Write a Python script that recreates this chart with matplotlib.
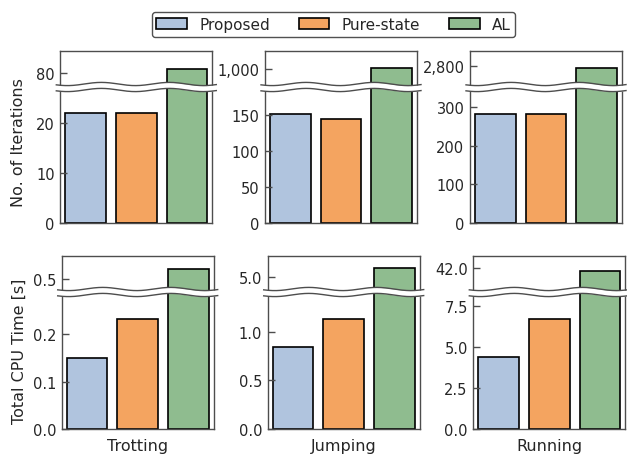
import numpy as np
import matplotlib
matplotlib.use("Agg")
import matplotlib.pyplot as plt
from matplotlib.patches import Patch
from matplotlib.ticker import FuncFormatter

# data
gaits = ["Trotting", "Jumping", "Running"]
methods = ["Proposed", "Pure-state", "AL"]
colors = ["#b0c4de", "#f4a460", "#8fbc8f"]

iter_proposed = [22, 151, 282]
iter_pure = [22, 145, 281]
iter_al = [80.8, 1002, 2793]

cpu_proposed = [0.149, 0.84, 4.39]
cpu_pure = [0.231, 1.13, 6.75]
cpu_al = [0.52, 5.09, 41.8]

# axis settings (upper broken piece, lower piece)
iter_top_lim = [(77.2, 84.4), (975, 1025), (2745, 2838)]
iter_top_ticks = [[80], [1000], [2800]]
iter_bot_lim = [27.2, 189, 351.7]
iter_bot_ticks = [[0, 10, 20], [0, 50, 100, 150], [0, 100, 200, 300]]

cpu_top_lim = [(0.4727, 0.5483), (4.843, 5.212), (40.53, 42.73)]
cpu_top_ticks = [[0.5], [5.0], [42.0]]
cpu_bot_lim = [0.2875, 1.404, 8.38]
cpu_bot_ticks = [[0.0, 0.1, 0.2], [0.0, 0.5, 1.0], [0.0, 2.5, 5.0, 7.5]]

plt.rcParams["font.family"] = ["DejaVu Sans"]
plt.rcParams["text.color"] = ".15"
plt.rcParams["axes.labelcolor"] = ".15"
plt.rcParams["xtick.color"] = ".15"
plt.rcParams["ytick.color"] = ".15"

W, H = 627, 460
fig = plt.figure(figsize=(W / 100, H / 100), dpi=100)

spine_col = "0.3"


def px_rect(left, top, width, height):
    return [left / W, 1 - (top + height) / H, width / W, height / H]


def comma_fmt(v, pos):
    return f"{v:,.0f}"


def dec_fmt(v, pos):
    return f"{v:.1f}"


def style_axis(ax):
    for s in ax.spines.values():
        s.set_color(spine_col)
        s.set_linewidth(1.0)
    ax.tick_params(axis="y", direction="in", length=5, width=1.0,
                   color=spine_col, labelsize=10.5, pad=4)
    ax.set_xticks([])
    ax.set_xlim(-0.5, 2.5)


def draw_panel(left, top, split, bottom, vals, top_lim, top_ticks,
               bot_lim, bot_ticks, fmt, xlabel=None):
    width = 152
    ax_t = fig.add_axes(px_rect(left, top, width, split - top))
    ax_b = fig.add_axes(px_rect(left, split, width, bottom - split))
    for ax in (ax_t, ax_b):
        ax.bar(range(3), vals, width=0.8, color=colors,
               edgecolor="black", linewidth=1.2)
        style_axis(ax)
        ax.yaxis.set_major_formatter(FuncFormatter(fmt))
    ax_t.set_ylim(*top_lim)
    ax_t.set_yticks(top_ticks)
    ax_t.spines["bottom"].set_visible(False)
    ax_b.set_ylim(0, bot_lim)
    ax_b.set_yticks(bot_ticks)
    ax_b.spines["top"].set_visible(False)
    if xlabel:
        ax_b.set_xlabel(xlabel, fontsize=11.5, labelpad=6)

    # wavy break
    xs = np.linspace(left - 4, left + width + 4, 200)
    wave = 1.6 * np.sin(2 * np.pi * (xs - left + 10) / 68.0)
    ov.fill_between(xs, split - 3 + wave, split + 3 + wave,
                    color="white", zorder=5, lw=0)
    ov.plot(xs, split - 3 + wave, color=spine_col, lw=1.0, zorder=6)
    ov.plot(xs, split + 3 + wave, color=spine_col, lw=1.0, zorder=6)


ov = fig.add_axes([0, 0, 1, 1], zorder=10)
ov.set_xlim(0, W)
ov.set_ylim(H, 0)
ov.set_axis_off()
ov.patch.set_alpha(0)

row1_left = [60.3, 265, 470]
row2_left = [61.7, 267.7, 473.3]

for i in range(3):
    draw_panel(row1_left[i], 52, 88, 224,
               [iter_proposed[i], iter_pure[i], iter_al[i]],
               iter_top_lim[i], iter_top_ticks[i],
               iter_bot_lim[i], iter_bot_ticks[i],
               comma_fmt)
    draw_panel(row2_left[i], 257, 293, 430.3,
               [cpu_proposed[i], cpu_pure[i], cpu_al[i]],
               cpu_top_lim[i], cpu_top_ticks[i],
               cpu_bot_lim[i], cpu_bot_ticks[i],
               dec_fmt, xlabel=gaits[i])

fig.text(19 / W, 1 - 143 / H, "No. of Iterations", rotation=90,
         ha="center", va="center", fontsize=11.5)
fig.text(19 / W, 1 - 351 / H, "Total CPU Time [s]", rotation=90,
         ha="center", va="center", fontsize=11.5)

handles = [Patch(facecolor=c, edgecolor="black", linewidth=1.2, label=m)
           for c, m in zip(colors, methods)]
leg = fig.legend(handles=handles, loc="center", ncol=3,
                 bbox_to_anchor=(333.5 / W, 1 - 25.5 / H),
                 fontsize=11, frameon=True, fancybox=True,
                 columnspacing=1.9, handlelength=2.0,
                 borderpad=0.3)
leg.get_frame().set_edgecolor("0.15")
leg.get_frame().set_linewidth(1.0)

fig.savefig("out.png", dpi=100)
